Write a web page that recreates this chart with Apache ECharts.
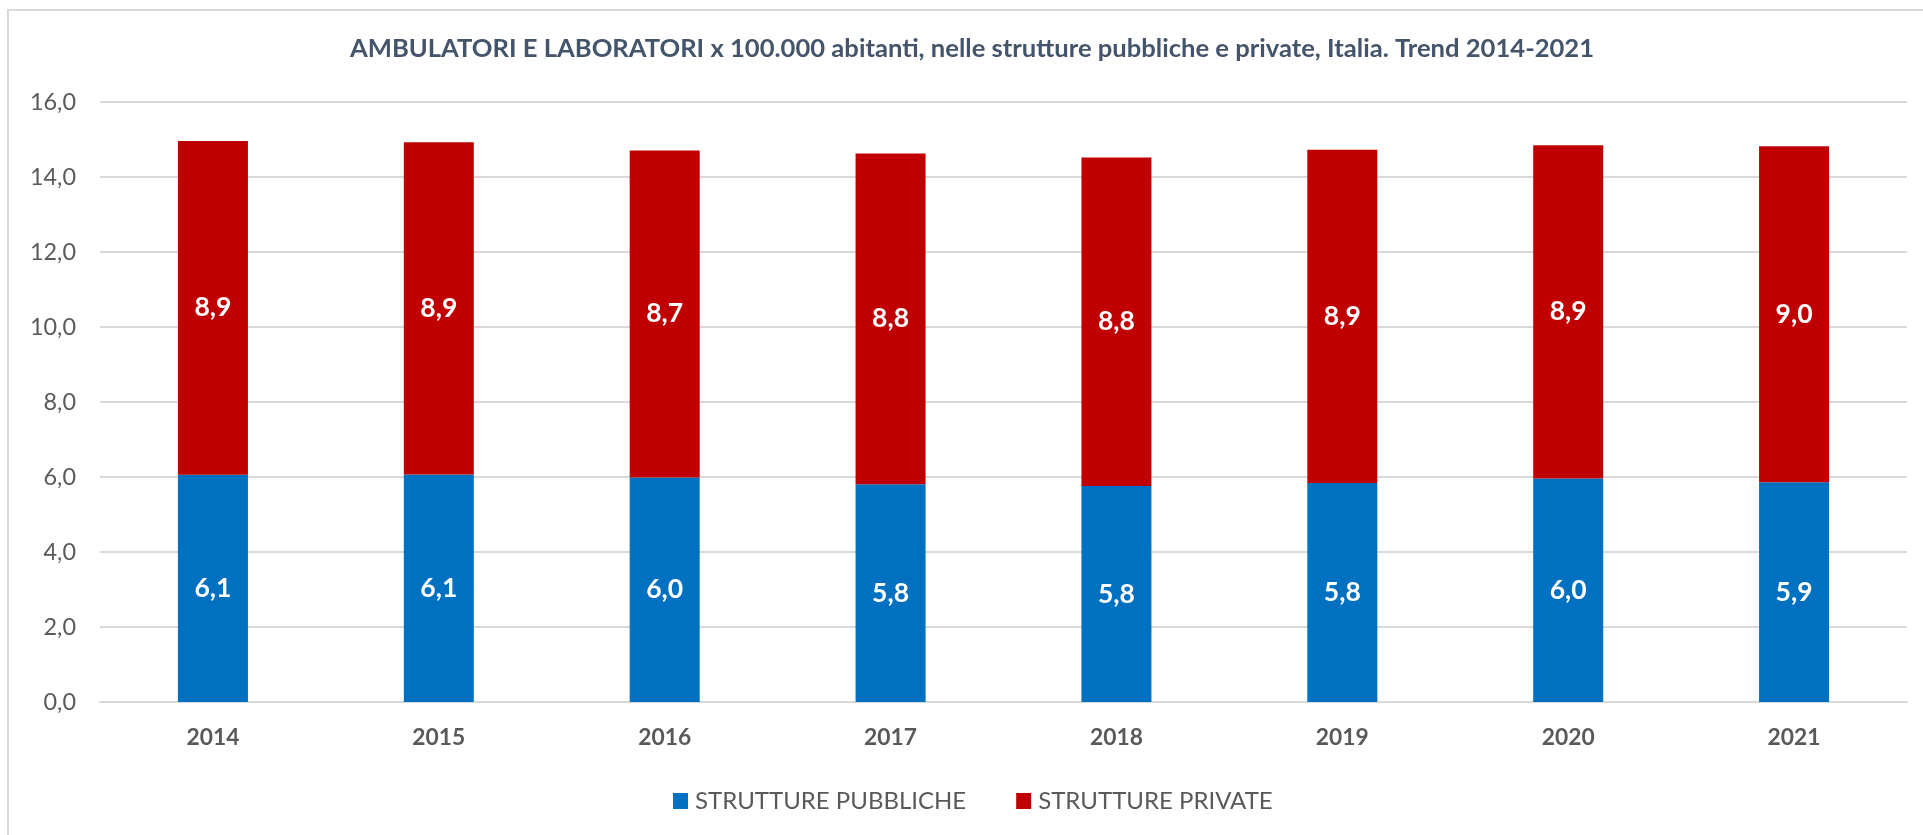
<!DOCTYPE html>
<html>
<head>
<meta charset="utf-8">
<script src="https://cdn.jsdelivr.net/npm/echarts@6/dist/echarts.min.js"></script>
<style>
html,body{margin:0;padding:0;background:#fff;}
#chart{width:1923px;height:835px;}
</style>
</head>
<body>
<div id="chart"></div>
<script>
const titleText = 'AMBULATORI E LABORATORI x 100.000 abitanti, nelle strutture pubbliche e private, Italia. Trend 2014-2021';
const categories = ['2014', '2015', '2016', '2017', '2018', '2019', '2020', '2021'];
const seriesNames = ['STRUTTURE PUBBLICHE', 'STRUTTURE PRIVATE'];
const pubbliche = [6.06, 6.07, 5.99, 5.81, 5.76, 5.84, 5.96, 5.86];
const privateVals = [8.90, 8.86, 8.72, 8.82, 8.76, 8.89, 8.89, 8.96];
const yMin = 0, yMax = 16, yStep = 2;

const FAMILY = 'Lato';
function fitSize(text, weight, target) {
  const ctx = document.createElement('canvas').getContext('2d');
  ctx.font = weight + ' 100px ' + FAMILY;
  return Math.round(100 * target / ctx.measureText(text).width * 10) / 10;
}
const titleSize = fitSize(titleText, 'bold', 1246);
const xSize = fitSize('2014', 'bold', 53);
const ySize = fitSize('16,0', 'normal', 46);
const legSize = fitSize('STRUTTURE PUBBLICHE', 'normal', 271);
const lblSize = fitSize('8,9', 'bold', 37);

const fmt = v => v.toFixed(1).replace('.', ',');

const chart = echarts.init(document.getElementById('chart'), null, {renderer: 'canvas'});
chart.setOption({
  animation: false,
  backgroundColor: '#ffffff',
  textStyle: {fontFamily: FAMILY},
  graphic: [{
    type: 'rect', silent: true, z: -1,
    shape: {x: 8, y: 10, width: 2000, height: 1000},
    style: {fill: 'none', stroke: '#d9d9d9', lineWidth: 2}
  }],
  title: {
    text: titleText,
    left: 350,
    top: 51 - titleSize * 0.6,
    padding: 0,
    textStyle: {fontFamily: FAMILY, fontWeight: 'bold', fontSize: titleSize, color: '#44546A'}
  },
  legend: {
    data: seriesNames,
    left: 673,
    top: 797 - 8,
    padding: 0,
    icon: 'rect',
    itemWidth: 15,
    itemHeight: 16,
    itemGap: 50,
    textStyle: {fontFamily: FAMILY, fontSize: legSize, color: '#595959', padding: [0, 0, 0, 2]}
  },
  grid: {left: 100, right: 16, top: 102, bottom: 133, containLabel: false},
  xAxis: {
    type: 'category',
    data: categories,
    axisLine: {show: true, lineStyle: {color: '#d9d9d9', width: 2}},
    axisTick: {show: false},
    axisLabel: {fontFamily: FAMILY, fontWeight: 'bold', fontSize: xSize, color: '#595959', margin: 24}
  },
  yAxis: {
    type: 'value',
    min: yMin, max: yMax, interval: yStep,
    axisLine: {show: false},
    axisTick: {show: false},
    splitLine: {lineStyle: {color: '#d9d9d9', width: 2}},
    axisLabel: {fontFamily: FAMILY, fontSize: ySize, color: '#595959', margin: 24, formatter: v => fmt(v)}
  },
  series: [{
    name: seriesNames[0],
    type: 'bar',
    stack: 'tot',
    data: pubbliche,
    barWidth: 70,
    itemStyle: {color: '#0070C0'},
    label: {show: true, position: 'inside', color: '#ffffff', fontFamily: FAMILY, fontWeight: 'bold', fontSize: lblSize, formatter: p => fmt(p.value)}
  }, {
    name: seriesNames[1],
    type: 'bar',
    stack: 'tot',
    data: privateVals,
    barWidth: 70,
    itemStyle: {color: '#C00000'},
    label: {show: true, position: 'inside', color: '#ffffff', fontFamily: FAMILY, fontWeight: 'bold', fontSize: lblSize, formatter: p => fmt(p.value)}
  }]
});
</script>
</body>
</html>
